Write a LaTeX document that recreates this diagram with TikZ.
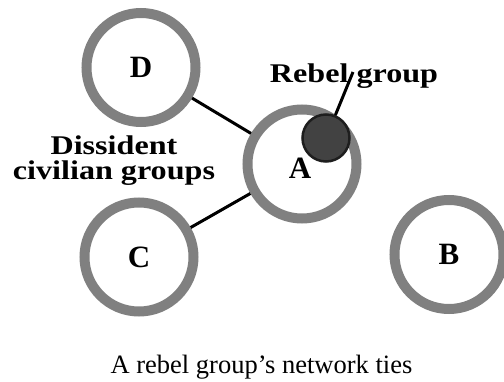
\documentclass[tikz,border=0pt]{standalone}
\usepackage{fontspec}
\setmainfont{Liberation Serif}
\definecolor{ringgray}{HTML}{808080}
\definecolor{dotfill}{HTML}{424242}
\definecolor{dotedge}{HTML}{1E1E1E}
\begin{document}
\begin{tikzpicture}[x=1pt,y=1pt,
  ring/.style={circle,draw=ringgray,line width=10pt,minimum size=109pt,inner sep=0pt,
    font=\fontsize{31}{31}\selectfont\bfseries},
  tie/.style={draw=black,line width=3pt},
  lbl/.style={font=\fontsize{27}{24}\selectfont\bfseries,inner sep=0pt}]
\useasboundingbox (0,0) rectangle (504,381);
\fill[white] (0,0) rectangle (504,381);
\node[ring] (D) at (141,313.5) {D};
\node[ring] (C) at (139,124) {C};
\node[ring] (B) at (449,126.5) {B};
\node[ring] (A) at (302,217) {};
\node[font=\fontsize{31}{31}\selectfont\bfseries,inner sep=0pt] (Alab) at (300,213) {A};
\draw[tie] (D) -- (A);
\draw[tie] (C) -- (A);
\node[circle,fill=dotfill,draw=dotedge,line width=2.5pt,minimum size=47pt,inner sep=0pt] (rebel) at (326,243) {};
\node[lbl,anchor=base] (rebeltxt) at (354,298) {\scalebox{1.19}[1]{Rebel group}};
\coordinate (rebelend) at (353,309);
\draw[tie] (rebel) -- (rebelend);
\node[lbl,anchor=base] (diss) at (114,201) {\scalebox{1.19}[1]{\begin{tabular}[b]{@{}c@{}}Dissident\\[0pt]civilian groups\end{tabular}}};
\node[font=\fontsize{26.5}{26.5}\selectfont,inner sep=0pt,anchor=base] (cap) at (261.5,8) {A rebel group’s network ties};
\end{tikzpicture}
\end{document}
